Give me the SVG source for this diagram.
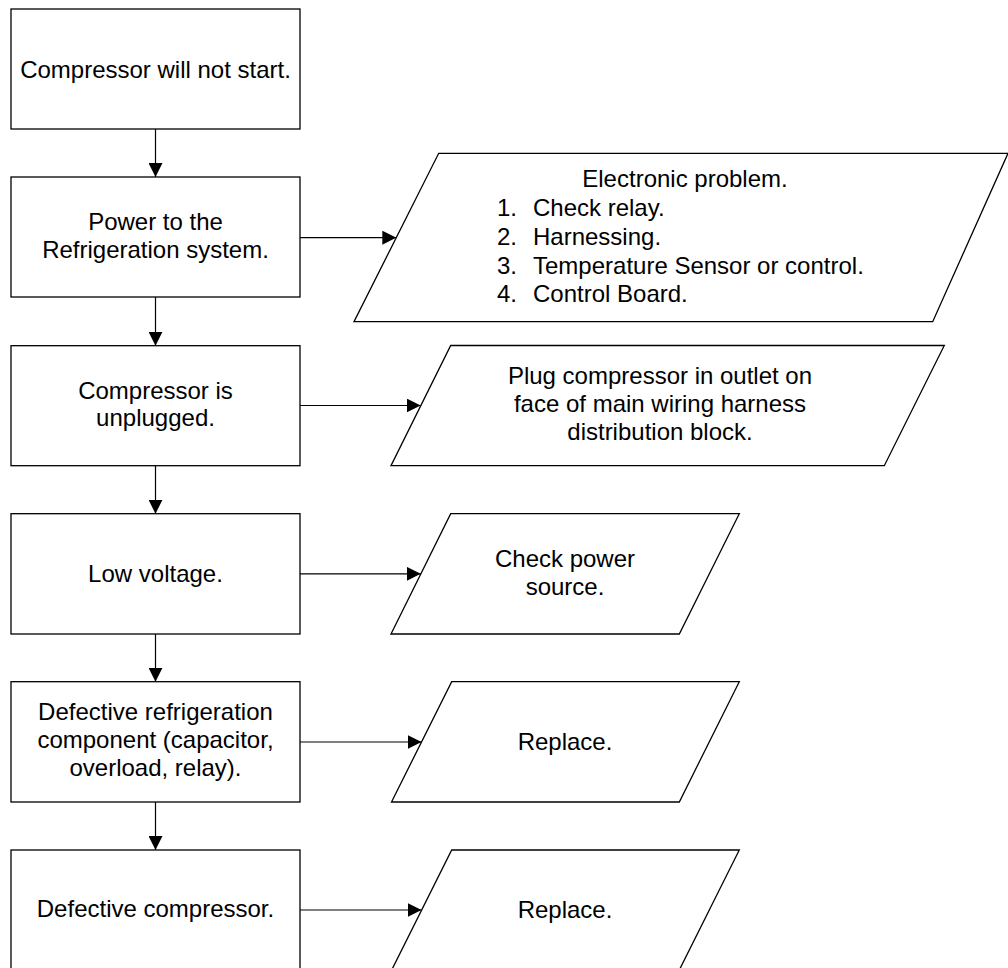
<svg xmlns="http://www.w3.org/2000/svg" width="1008" height="968" viewBox="0 0 1008 968">
<defs>
<style>
.box{fill:#fff;stroke:#000;stroke-width:1.3}
.t{font-family:"Liberation Sans",Arial,sans-serif;font-size:24px;fill:#000;text-anchor:middle}
.tl{font-family:"Liberation Sans",Arial,sans-serif;font-size:24px;fill:#000}
.c{stroke:#000;stroke-width:1.2;fill:none}
</style>
<marker id="ah" markerUnits="userSpaceOnUse" markerWidth="14" markerHeight="14" refX="14" refY="7" orient="auto">
<path d="M0,0 L14,7 L0,14 z" fill="#000"/>
</marker>
</defs>
<rect width="1008" height="968" fill="#fff"/>
<g id="connectors">
<line class="c" x1="155.5" y1="129" x2="155.5" y2="177" marker-end="url(#ah)"/>
<line class="c" x1="155.5" y1="297" x2="155.5" y2="345.7" marker-end="url(#ah)"/>
<line class="c" x1="155.5" y1="465.7" x2="155.5" y2="513.7" marker-end="url(#ah)"/>
<line class="c" x1="155.5" y1="634" x2="155.5" y2="681.7" marker-end="url(#ah)"/>
<line class="c" x1="155.5" y1="802" x2="155.5" y2="850" marker-end="url(#ah)"/>
<line class="c" x1="300" y1="237.7" x2="396.3" y2="237.7" marker-end="url(#ah)"/>
<line class="c" x1="300" y1="405.5" x2="420.7" y2="405.5" marker-end="url(#ah)"/>
<line class="c" x1="300" y1="573.8" x2="420.7" y2="573.8" marker-end="url(#ah)"/>
<line class="c" x1="300" y1="742" x2="421.5" y2="742" marker-end="url(#ah)"/>
<line class="c" x1="300" y1="910" x2="421.5" y2="910" marker-end="url(#ah)"/>
</g>
<g id="n1"><rect class="box" x="11" y="9" width="289" height="120"/><text class="t" x="155.5" y="78">Compressor will not start.</text></g>
<g id="n2"><rect class="box" x="11" y="177" width="289" height="120"/><text class="t" x="155.5" y="230">Power to the</text><text class="t" x="155.5" y="258">Refrigeration system.</text></g>
<g id="n3"><rect class="box" x="11" y="345.7" width="289" height="120"/><text class="t" x="155.5" y="399">Compressor is</text><text class="t" x="155.5" y="426">unplugged.</text></g>
<g id="n4"><rect class="box" x="11" y="513.7" width="289" height="120.3"/><text class="t" x="155.5" y="582">Low voltage.</text></g>
<g id="n5"><rect class="box" x="11" y="681.7" width="289" height="120.3"/><text class="t" x="155.5" y="720">Defective refrigeration</text><text class="t" x="155.5" y="748">component (capacitor,</text><text class="t" x="155.5" y="776">overload, relay).</text></g>
<g id="n6"><rect class="box" x="11" y="850" width="289" height="122"/><text class="t" x="155.5" y="917">Defective compressor.</text></g>
<g id="p1"><polygon class="box" points="438.7,153.3 1008,153.3 932.7,321.7 354,321.7"/>
<text class="t" x="685" y="187">Electronic problem.</text>
<text class="tl" x="497" y="216">1.</text><text class="tl" x="533" y="216">Check relay.</text>
<text class="tl" x="497" y="245">2.</text><text class="tl" x="533" y="245">Harnessing.</text>
<text class="tl" x="497" y="273.5">3.</text><text class="tl" x="533" y="273.5">Temperature Sensor or control.</text>
<text class="tl" x="497" y="302">4.</text><text class="tl" x="533" y="302">Control Board.</text></g>
<g id="p2"><polygon class="box" points="450.7,345.5 944.3,345.5 884.3,465.7 391,465.7"/>
<text class="t" x="660" y="384">Plug compressor in outlet on</text><text class="t" x="660" y="412">face of main wiring harness</text><text class="t" x="660" y="440">distribution block.</text></g>
<g id="p3"><polygon class="box" points="450.7,513.7 739.3,513.7 679.3,634 391,634"/>
<text class="t" x="565" y="567">Check power</text><text class="t" x="565" y="595">source.</text></g>
<g id="p4"><polygon class="box" points="451.7,681.7 739.3,681.7 679.3,802 391.5,802"/>
<text class="t" x="565" y="750">Replace.</text></g>
<g id="p5"><polygon class="box" points="451.7,850 739.3,850 678.3,972 390.7,972"/>
<text class="t" x="565" y="918">Replace.</text></g>
</svg>
